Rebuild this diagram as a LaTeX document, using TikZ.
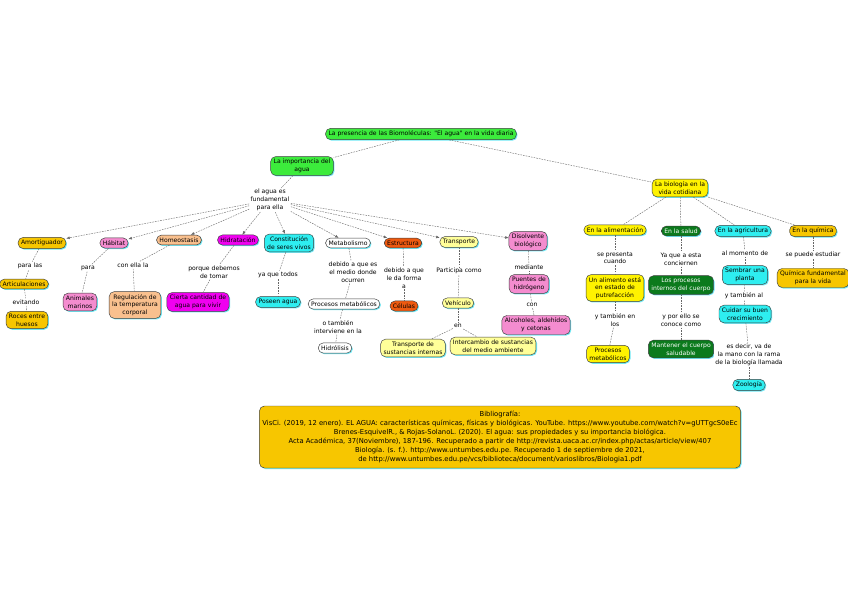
\documentclass[tikz,border=0pt]{standalone}
\usepackage{fontspec}
\newfontfamily\cmapsans{DejaVu Sans}
\usetikzlibrary{arrows.meta, shadows}

\definecolor{verde}{HTML}{3CEB3C}
\definecolor{amarillo}{HTML}{FFF200}
\definecolor{amarilloclaro}{HTML}{FFFF99}
\definecolor{dorado}{HTML}{F7C600}
\definecolor{rosa}{HTML}{F48CCF}
\definecolor{durazno}{HTML}{F9C08E}
\definecolor{fucsia}{HTML}{F000F0}
\definecolor{cian}{HTML}{2EEEF0}
\definecolor{naranja}{HTML}{EE5A10}
\definecolor{verdeosc}{HTML}{0B7A1C}
\definecolor{sombra}{HTML}{6FE8F5}

\newcommand{\mapfont}{\cmapsans\fontsize{5.2}{6.6}\selectfont}
\newcommand{\biblfont}{\cmapsans\fontsize{5.8}{7.6}\selectfont}

\begin{document}
\begin{tikzpicture}[
  x=0.3mm, y=-0.3mm,
  concept/.style={draw=black!75, fill=#1, rounded corners=1.5mm, align=center,
                  font=\mapfont, inner xsep=2.5pt, inner ysep=2.2pt, line width=0.4pt,
                  drop shadow={fill=sombra, opacity=1, shadow xshift=0.9pt, shadow yshift=-0.9pt}},
  concept/.default=white,
  dark/.style={concept=verdeosc, text=white},
  lnk/.style={align=center, font=\mapfont, inner sep=1pt, fill=white},
  conn/.style={draw=black!60, line width=0.35pt, dash pattern=on 1.4pt off 0.9pt},
  arr/.style={conn, -{Latex[length=3pt, width=2.4pt]}}
]

\useasboundingbox[fill=white] (0,0) rectangle (848,599);

% Nodes
\node[concept=verde] (title) at (421,134) {La presencia de las Biomoléculas: "El agua" en la vida diaria};
\node[concept=verde] (imp) at (302,166) {La importancia del\\agua};
\node[lnk] (lk0) at (270,200) {el agua es\\fundamental\\para ella};
\node[concept=amarillo] (bio) at (680,188) {La biología en la\\vida cotidiana};

% La importancia del agua
\node[concept=dorado] (amort) at (42,243) {Amortiguador};
\node[concept=rosa] (habitat) at (114,243) {Hábitat};
\node[concept=durazno] (homeo) at (179,240) {Homeostasis};
\node[concept=fucsia] (hidra) at (238,240) {Hidratación};
\node[concept=cian] (const) at (289,243) {Constitución\\de seres vivos};
\node[concept] (metab) at (348,243) {Metabolismo};
\node[concept=naranja] (estruc) at (403,243) {Estructura};
\node[concept=amarilloclaro] (transp) at (459,242) {Transporte};
\node[concept=rosa] (disolv) at (528,241) {Disolvente\\biológico};

\node[lnk] (lk1) at (30,266) {para las};
\node[concept=dorado] (artic) at (24,284) {Articulaciones};
\node[lnk] (lk2) at (26,302) {evitando};
\node[concept=dorado] (roces) at (27,320) {Roces entre\\huesos};

\node[lnk] (lk3) at (88,268) {para};
\node[concept=rosa] (marinos) at (80,302) {Animales\\marinos};

\node[lnk] (lk4) at (133,265) {con ella la};
\node[concept=durazno] (regul) at (135,305) {Regulación de\\la temperatura\\corporal};

\node[lnk] (lk5) at (214,272) {porque debemos\\de tomar};
\node[concept=fucsia] (cierta) at (198,302) {Cierta cantidad de\\agua para vivir};

\node[lnk] (lk6) at (278,275) {ya que todos};
\node[concept=cian] (poseen) at (278,302) {Poseen agua};

\node[lnk] (lk7) at (353,272) {debido a que es\\el medio donde\\ocurren};
\node[concept] (procm) at (344,304) {Procesos metabólicos};
\node[lnk] (lk8) at (338,327) {o también\\interviene en la};
\node[concept] (hidro) at (335,348) {Hidrólisis};

\node[lnk] (lk9) at (404,278) {debido a que\\le da forma\\a};
\node[concept=naranja] (celulas) at (404,306) {Células};

\node[lnk] (lk10) at (459,271) {Participa como};
\node[concept=amarilloclaro] (vehic) at (458,303) {Vehículo};
\node[lnk] (lk11) at (458,326) {en};
\node[concept=amarilloclaro] (tsust) at (413,348) {Transporte de\\sustancias internas};
\node[concept=amarilloclaro] (inter) at (493,346) {Intercambio de sustancias\\del medio ambiente};

\node[lnk] (lk12) at (529,267) {mediante};
\node[concept=rosa] (puentes) at (529,284) {Puentes de\\hidrógeno};
\node[lnk] (lk13) at (532,305) {con};
\node[concept=rosa] (alcoh) at (536,325) {Alcoholes, aldehídos\\y cetonas};

% La biologia en la vida cotidiana
\node[concept=amarillo] (alim) at (615,230) {En la alimentación};
\node[dark] (salud) at (681,231) {En la salud};
\node[concept=cian] (agri) at (743,231) {En la agricultura};
\node[concept=dorado] (quim) at (813,231) {En la química};

\node[lnk] (lk14) at (615,258) {se presenta\\cuando};
\node[concept=amarillo] (putre) at (615,288) {Un alimento está\\en estado de\\putrefacción};
\node[lnk] (lk15) at (615,320) {y también en\\los};
\node[concept=amarillo] (procm2) at (608,354) {Procesos\\metabólicos};

\node[lnk] (lk16) at (681,259) {Ya que a esta\\conciernen};
\node[dark] (internos) at (681,285) {Los procesos\\internos del cuerpo};
\node[lnk] (lk17) at (681,320) {y por ello se\\conoce como};
\node[dark] (mant) at (681,349) {Mantener el cuerpo\\saludable};

\node[lnk] (lk18) at (745,253) {al momento de};
\node[concept=cian] (sembrar) at (745,275) {Sembrar una\\planta};
\node[lnk] (lk19) at (744,296) {y también al};
\node[concept=cian] (cuidar) at (745,314) {Cuidar su buen\\crecimiento};
\node[lnk] (lk20) at (749,355) {es decir, va de\\la mano con la rama\\de la biología llamada};
\node[concept=cian] (zoo) at (749,385) {Zoología};

\node[lnk] (lk21) at (813,255) {se puede estudiar};
\node[concept=dorado] (qfund) at (813,278) {Química fundamental\\para la vida};

% Bibliografia
\node[concept=dorado, font=\biblfont, minimum width=142.5mm, minimum height=18.6mm] (biblio) at (500,437)
  {Bibliografía:\\
   VisCi. (2019, 12 enero). EL AGUA: características químicas, físicas y biológicas. YouTube. https://www.youtube.com/watch?v=gUTTgcS0eEc\\
   Brenes-EsquivelR., \& Rojas-SolanoL. (2020). El agua: sus propiedades y su importancia biológica.\\
   Acta Académica, 37(Noviembre), 187-196. Recuperado a partir de http://revista.uaca.ac.cr/index.php/actas/article/view/407\\
   Biología. (s. f.). http://www.untumbes.edu.pe. Recuperado 1 de septiembre de 2021,\\
   de http://www.untumbes.edu.pe/vcs/biblioteca/document/varioslibros/Biologia1.pdf};

% Connectors
\draw[conn] (title) -- (imp);
\draw[conn] (title) -- (bio);
\draw[conn] (imp) -- (lk0);
\foreach \n in {amort,habitat,homeo,hidra,const,metab,estruc,transp,disolv}
  \draw[arr] (lk0) -- (\n);
\foreach \n in {alim,salud,agri,quim}
  \draw[conn] (bio) -- (\n);

\foreach \a/\l/\b in {amort/lk1/artic, artic/lk2/roces, habitat/lk3/marinos, homeo/lk4/regul,
    hidra/lk5/cierta, const/lk6/poseen, metab/lk7/procm, procm/lk8/hidro, estruc/lk9/celulas,
    transp/lk10/vehic, vehic/lk11/tsust, disolv/lk12/puentes, puentes/lk13/alcoh,
    alim/lk14/putre, putre/lk15/procm2, salud/lk16/internos, internos/lk17/mant,
    agri/lk18/sembrar, sembrar/lk19/cuidar, cuidar/lk20/zoo, quim/lk21/qfund}{
  \draw[conn] (\a) -- (\l);
  \draw[conn] (\l) -- (\b);
}
\draw[conn] (lk11) -- (inter);

\end{tikzpicture}
\end{document}
